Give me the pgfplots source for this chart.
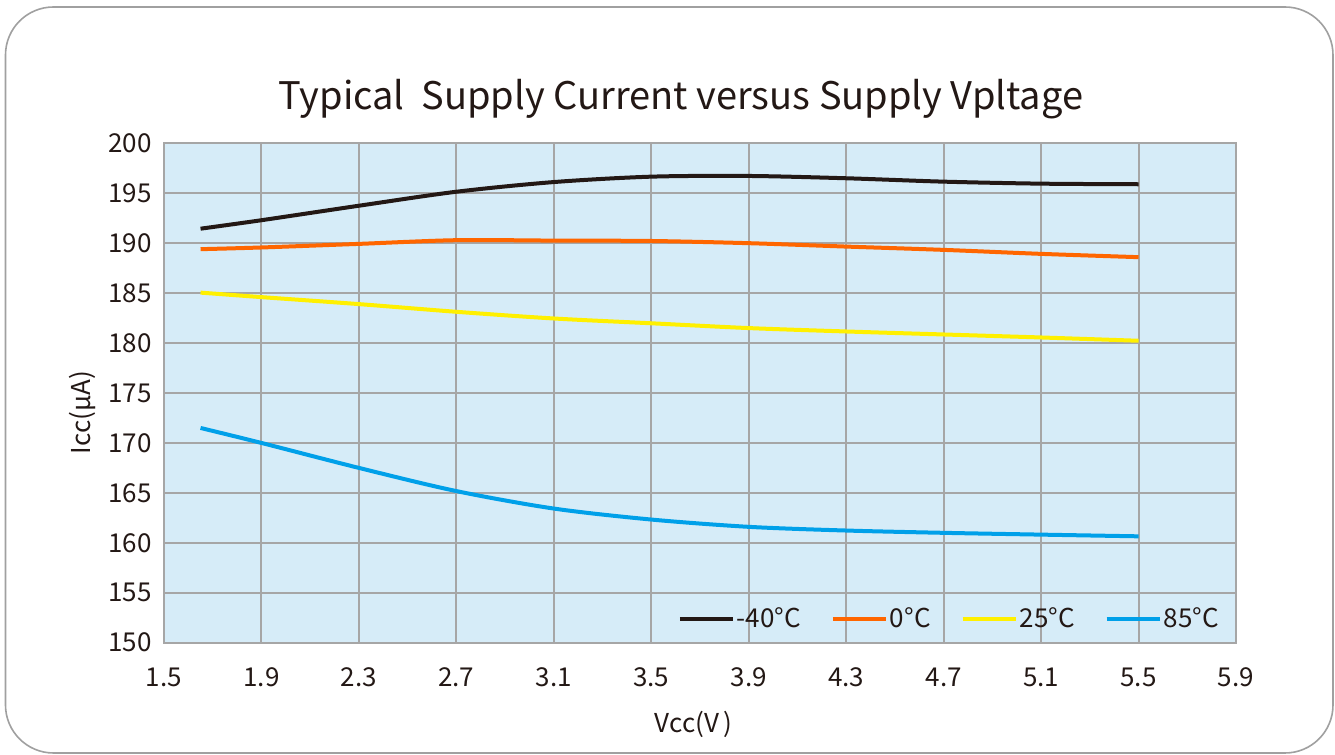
\documentclass[border=0pt]{standalone}
\usepackage{pgfplots}
\pgfplotsset{compat=1.18}
\usepackage{pgfplotstable}
\usepackage{fontspec}
\setmainfont{Noto Sans CJK SC}
\definecolor{bg}{HTML}{D6ECF8}
\definecolor{gridgray}{HTML}{A6A6A6}
\definecolor{bordergray}{HTML}{A0A0A0}
\definecolor{txt}{HTML}{231815}
\definecolor{cblack}{HTML}{231815}
\definecolor{corange}{HTML}{FF6600}
\definecolor{cyellow}{HTML}{FFF000}
\definecolor{cblue}{HTML}{00A0E9}

\pgfplotstableread{
x     m40     z0      p25     p85
1.65  191.45  189.40  185.05  171.50
1.9   192.30  189.57  184.60  170.00
2.3   193.75  189.93  183.90  167.50
2.7   195.15  190.30  183.13  165.18
3.1   196.12  190.26  182.46  163.43
3.5   196.66  190.22  181.98  162.33
3.9   196.73  190.00  181.50  161.60
4.3   196.50  189.66  181.16  161.23
4.7   196.16  189.33  180.86  161.00
5.1   195.96  188.93  180.56  160.82
5.5   195.90  188.60  180.23  160.65
}\datatable

\begin{document}
\begin{tikzpicture}
\useasboundingbox (0,0) rectangle (667.5pt,377.5pt);
\draw[bordergray, line width=0.8pt, rounded corners=24pt] (2.75pt,1pt) rectangle (666.5pt,374pt);
\begin{axis}[
  at={(82pt,56.15pt)}, anchor=south west,
  scale only axis, width=536pt, height=249.7pt,
  xmin=1.5, xmax=5.9, ymin=150, ymax=200,
  xtick={1.5,1.9,2.3,2.7,3.1,3.5,3.9,4.3,4.7,5.1,5.5,5.9},
  ytick={150,155,...,200},
  grid=major, grid style={gridgray, line width=1pt},
  axis line style={gridgray, line width=1pt},
  major tick length=0pt,
  axis background/.style={fill=bg},
  /pgf/number format/assume math mode=true,
  ticklabel style={font=\fontsize{13pt}{15pt}\selectfont, text=txt, inner sep=0pt},
  x tick label style={/pgf/number format/.cd, fixed, fixed zerofill, precision=1, /tikz/.cd, anchor=north, yshift=-12.3pt},
  y tick label style={anchor=east, xshift=-6pt},
  title={Typical\ \ Supply Current versus Supply Vpltage},
  title style={at={(axis description cs:0.482,1.043)}, anchor=base, font=\fontsize{19pt}{22pt}\selectfont, text=txt, inner sep=0pt},
  xlabel={Vcc(V\,)},
  xlabel style={at={(axis description cs:0.494,-0.1808)}, anchor=base, font=\fontsize{13pt}{15pt}\selectfont, text=txt, inner sep=0pt},
  ylabel={Icc(µA)},
  ylabel style={at={(axis description cs:-0.069,0.461)}, anchor=base, font=\fontsize{13pt}{15pt}\selectfont, text=txt, inner sep=0pt},
  legend style={draw=none, fill=none, at={(axis description cs:0.479,0.0465)}, anchor=west,
    font=\fontsize{13pt}{15pt}\selectfont, text=txt, inner sep=0pt,
    nodes={inner sep=1pt},
    /tikz/every even column/.append style={column sep=14pt}},
  legend columns=4,
  legend image code/.code={\draw[#1] (0pt,0pt) -- (26.5pt,0pt);},
]
\addplot[cblack, line width=2pt, smooth] table[x=x, y=m40] {\datatable};
\addlegendentry{-40°C}
\addplot[corange, line width=2pt, smooth] table[x=x, y=z0] {\datatable};
\addlegendentry{0°C}
\addplot[cyellow, line width=2pt, smooth] table[x=x, y=p25] {\datatable};
\addlegendentry{25°C}
\addplot[cblue, line width=2pt, smooth] table[x=x, y=p85] {\datatable};
\addlegendentry{85°C}
\end{axis}
\end{tikzpicture}
\end{document}
